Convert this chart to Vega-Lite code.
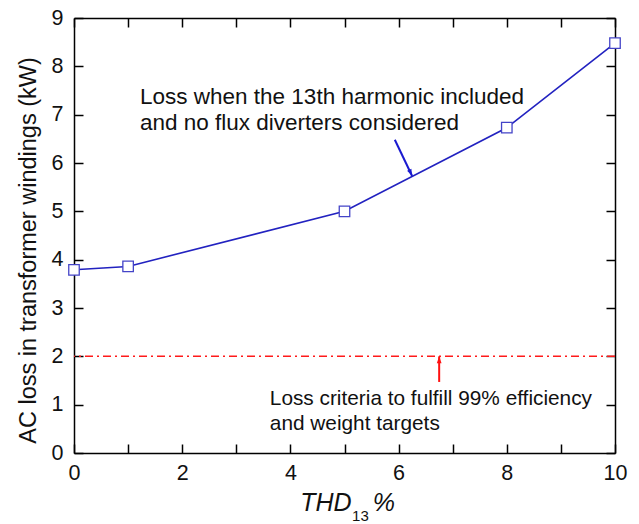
{
  "$schema": "https://vega.github.io/schema/vega-lite/v6.json",
  "autosize": {"type": "none"},
  "padding": {"left": 74, "top": 18, "right": 24, "bottom": 71},
  "width": 541,
  "height": 435,
  "background": "white",
  "config": {
    "font": "Liberation Sans",
    "view": {"stroke": null},
    "axis": {"grid": false, "domainColor": "black", "tickColor": "black", "domainWidth": 1.5, "tickWidth": 1.5, "labelColor": "#111111", "titleColor": "#111111", "labelFont": "Liberation Sans", "titleFont": "Liberation Sans"}
  },
  "datasets": {
    "loss": [
      {"thd": 0, "loss": 3.79},
      {"thd": 1, "loss": 3.86},
      {"thd": 5, "loss": 5.0},
      {"thd": 8, "loss": 6.73},
      {"thd": 10, "loss": 8.48}
    ],
    "criteria": [{"y": 2}],
    "notes": [
      {"x": 1.22, "y": 7.37, "text": "Loss when the 13th harmonic included", "group": "blue"},
      {"x": 1.22, "y": 6.83, "text": "and no flux diverters considered", "group": "blue"},
      {"x": 3.62, "y": 1.12, "text": "Loss criteria to fulfill 99% efficiency", "group": "red"},
      {"x": 3.62, "y": 0.6, "text": "and weight targets", "group": "red"}
    ],
    "xtitle": [
      {"x": 4.18, "y": -1.04, "text": "THD", "part": "main"},
      {"x": 5.14, "y": -1.3, "text": "13", "part": "sub"},
      {"x": 5.52, "y": -1.04, "text": "%", "part": "main"}
    ],
    "arrows": [
      {"x": 5.93, "y": 6.48, "x2": 6.25, "y2": 5.73, "angle": 155, "color": "#1a1ad0"},
      {"x": 6.75, "y": 1.47, "x2": 6.75, "y2": 2.0, "angle": 0, "color": "#ff1010"}
    ]
  },
  "layer": [
    {
      "data": {"name": "loss"},
      "mark": {"type": "line", "color": "#2222c0", "strokeWidth": 1.6},
      "encoding": {
        "x": {"field": "thd", "type": "quantitative", "scale": {"domain": [0, 10], "nice": false},
          "axis": {"orient": "bottom", "values": [0,1,2,3,4,5,6,7,8,9,10], "labelExpr": "datum.value % 2 === 0 ? datum.label : ''", "tickSize": -9, "labelPadding": 18, "labelFontSize": 21.5, "labelFlush": false, "title": null,
            "encode": {"ticks": {"update": {"y2": {"signal": "datum.value % 2 === 0 ? -9 : -5"}}}}}},
        "y": {"field": "loss", "type": "quantitative", "scale": {"domain": [0, 9], "nice": false},
          "axis": {"orient": "left", "values": [0,1,2,3,4,5,6,7,8,9], "tickSize": -9, "labelPadding": 20, "labelFontSize": 21.5, "title": "AC loss in transformer windings (kW)", "titleFontSize": 23.5, "titleFontWeight": "normal", "titleBaseline": "middle", "titleX": -46, "titleY": 232}}
      }
    },
    {
      "data": {"name": "loss"},
      "mark": {"type": "point", "shape": "square", "filled": true, "fill": "white", "stroke": "#4444c8", "strokeWidth": 1.3, "size": 110, "opacity": 1, "clip": false},
      "encoding": {
        "x": {"field": "thd", "type": "quantitative", "axis": null},
        "y": {"field": "loss", "type": "quantitative", "axis": null}
      }
    },
    {
      "data": {"name": "criteria"},
      "mark": {"type": "rule", "color": "#ff1a1a", "strokeWidth": 1.5, "strokeDash": [8, 4, 2, 4]},
      "encoding": {
        "y": {"field": "y", "type": "quantitative", "axis": null}
      }
    },
    {
      "data": {"name": "arrows"},
      "mark": {"type": "rule", "strokeWidth": 2},
      "encoding": {
        "x": {"field": "x", "type": "quantitative", "axis": null},
        "y": {"field": "y", "type": "quantitative", "axis": null},
        "x2": {"field": "x2"},
        "y2": {"field": "y2"},
        "color": {"field": "color", "type": "nominal", "scale": null}
      }
    },
    {
      "data": {"name": "arrows"},
      "mark": {"type": "point", "shape": "M0,0L-0.45,1.3L0.45,1.3Z", "filled": true, "size": 110, "opacity": 1},
      "encoding": {
        "x": {"field": "x2", "type": "quantitative", "axis": null},
        "y": {"field": "y2", "type": "quantitative", "axis": null},
        "angle": {"field": "angle", "type": "quantitative", "scale": null},
        "color": {"field": "color", "type": "nominal", "scale": null}
      }
    },
    {
      "data": {"name": "notes"},
      "mark": {"type": "text", "align": "left", "baseline": "middle", "color": "#111111"},
      "encoding": {
        "x": {"field": "x", "type": "quantitative", "axis": null},
        "y": {"field": "y", "type": "quantitative", "axis": null},
        "text": {"field": "text"},
        "size": {"condition": {"test": "datum.group === 'red'", "value": 20.8}, "value": 22.5}
      }
    },
    {
      "data": {"name": "xtitle"},
      "transform": [{"filter": "datum.part === 'main'"}],
      "mark": {"type": "text", "align": "left", "baseline": "middle", "color": "#111111", "fontStyle": "italic", "fontSize": 25},
      "encoding": {
        "x": {"field": "x", "type": "quantitative", "axis": null},
        "y": {"field": "y", "type": "quantitative", "axis": null},
        "text": {"field": "text"}
      }
    },
    {
      "data": {"name": "xtitle"},
      "transform": [{"filter": "datum.part === 'sub'"}],
      "mark": {"type": "text", "align": "left", "baseline": "middle", "color": "#111111", "fontSize": 15},
      "encoding": {
        "x": {"field": "x", "type": "quantitative", "axis": null},
        "y": {"field": "y", "type": "quantitative", "axis": null},
        "text": {"field": "text"}
      }
    },
    {
      "data": {"values": [{"a": 0}]},
      "mark": {"type": "point", "opacity": 0},
      "encoding": {
        "x": {"datum": 0, "type": "quantitative", "axis": {"orient": "top", "values": [0,1,2,3,4,5,6,7,8,9,10], "labels": false, "title": null, "tickSize": -9,
          "encode": {"ticks": {"update": {"y2": {"signal": "datum.value % 2 === 0 ? 9 : 5"}}}}}},
        "y": {"datum": 0, "type": "quantitative", "axis": {"orient": "right", "values": [0,1,2,3,4,5,6,7,8,9], "labels": false, "title": null, "tickSize": -9}}
      }
    }
  ],
  "resolve": {"axis": {"x": "independent", "y": "independent"}}
}
